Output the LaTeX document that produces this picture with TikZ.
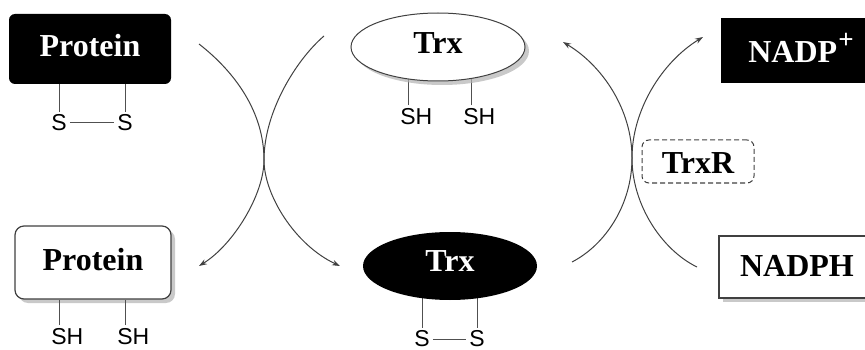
\documentclass[tikz,border=0pt]{standalone}
\usepackage{fontspec}
\setmainfont{Liberation Serif}
\setsansfont{Liberation Sans}
\usetikzlibrary{arrows.meta,shapes.geometric,shadows,backgrounds}
\definecolor{edgec}{HTML}{404040}
\definecolor{bondc}{HTML}{505050}
\begin{document}
\begin{tikzpicture}[x=1pt,y=-1pt,
  every node/.style={inner sep=0pt},
  lbl/.style={font=\fontsize{32}{32}\selectfont\bfseries},
  grp/.style={font=\sffamily\fontsize{23}{23}\selectfont},
  bondline/.style={draw=bondc, line width=1pt},
  flow/.style={draw=edgec, line width=1pt, -{Stealth[length=8pt,width=5.5pt]}},
  castshadow/.style={drop shadow={shadow xshift=4pt,shadow yshift=-4pt,fill=black!30,opacity=0.7}},
]
\clip (0,0) rectangle (865,350);

% oxidised and reduced protein
\node[lbl, rectangle, rounded corners=6pt, fill=black, text=white,
      minimum width=162pt, minimum height=70pt, text height=21pt, text depth=6pt]
      (protS) at (90,49) {Protein};
\node[lbl, rectangle, rounded corners=9pt, draw=edgec, line width=1.2pt, fill=white, castshadow,
      minimum width=156pt, minimum height=73pt, text height=21pt, text depth=5pt]
      (protH) at (93,262.5) {Protein};

% thioredoxin, reduced (top) and oxidised (bottom)
\node[lbl, ellipse, draw=edgec, line width=1pt, fill=white, castshadow,
      minimum width=174pt, minimum height=68pt, text height=21pt, text depth=8pt]
      (trxH) at (438,47) {Trx};
\node[lbl, ellipse, fill=black, text=white,
      minimum width=174pt, minimum height=68pt, text height=21pt, text depth=10pt]
      (trxS) at (450,266) {Trx};

% cofactors and reductase
\node[lbl, rectangle, fill=black, text=white,
      minimum width=160pt, minimum height=65pt, text height=25pt, text depth=0pt]
      (nadp) at (801,50.5) {NADP\kern1pt\raisebox{14pt}{\fontsize{27}{27}\selectfont +}};
\node[lbl, rectangle, draw=edgec, line width=1.2pt, fill=white, castshadow,
      minimum width=156pt, minimum height=62pt, text height=21pt, text depth=2pt]
      (nadph) at (797,267) {NADPH};
\node[lbl, rectangle, rounded corners=7pt, draw=edgec, dash pattern=on 5pt off 3pt, line width=1pt,
      minimum width=112pt, minimum height=43pt, text height=23pt, text depth=0pt]
      (trxr) at (698,161.5) {TrxR};

% sulfur groups
\node[grp, inner sep=3pt] (pS1) at (59,123) {S};
\node[grp, inner sep=3pt] (pS2) at (125,123) {S};
\node[grp, inner sep=3pt] (tSH1) at (408,116.5) {S\rlap{H}};
\node[grp, inner sep=3pt] (tSH2) at (471,116.5) {S\rlap{H}};
\node[grp, inner sep=3pt] (pSH1) at (59,336.5) {S\rlap{H}};
\node[grp, inner sep=3pt] (pSH2) at (125,336.5) {S\rlap{H}};
\node[grp, inner sep=3pt] (tS1) at (422,339) {S};
\node[grp, inner sep=3pt] (tS2) at (477,339) {S};

% bonds
\draw[bondline] (pS1.north) -- (pS1 |- protS.south);
\draw[bondline] (pS2.north) -- (pS2 |- protS.south);
\draw[bondline] (pS1.east) -- (pS2.west);
\draw[bondline] (pSH1.north) -- (pSH1 |- protH.south);
\draw[bondline] (pSH2.north) -- (pSH2 |- protH.south);
\draw[bondline] (tS1.east) -- (tS2.west);
\begin{scope}[on background layer]
  \draw[bondline] (tSH1.north) -- (tSH1 |- trxH.center);
  \draw[bondline] (tSH2.north) -- (tSH2 |- trxH.center);
  \draw[bondline] (tS1.north) -- (tS1 |- trxS.center);
  \draw[bondline] (tS2.north) -- (tS2 |- trxS.center);
\end{scope}

% crossing reaction arcs
\coordinate (xL) at (264,160);
\coordinate (aIn) at (199,44);
\coordinate (aOut) at (340,266);
\coordinate (bIn) at (324,36);
\coordinate (bOut) at (199,266);
\draw[flow] (aIn) .. controls (235,72) and (264,112) .. (xL)
                  .. controls (264,195) and (295,245) .. (aOut);
\draw[flow] (bIn) .. controls (296,60) and (264,112) .. (xL)
                  .. controls (264,195) and (233,245) .. (bOut);

\coordinate (xR) at (632,158);
\coordinate (cIn) at (572,262);
\coordinate (cOut) at (703,37);
\coordinate (dIn) at (697,267);
\coordinate (dOut) at (563,42);
\draw[flow] (cIn) .. controls (605,245) and (632,205) .. (xR)
                  .. controls (632,110) and (662,62) .. (cOut);
\draw[flow] (dIn) .. controls (662,250) and (632,205) .. (xR)
                  .. controls (632,110) and (603,66) .. (dOut);
\end{tikzpicture}
\end{document}
